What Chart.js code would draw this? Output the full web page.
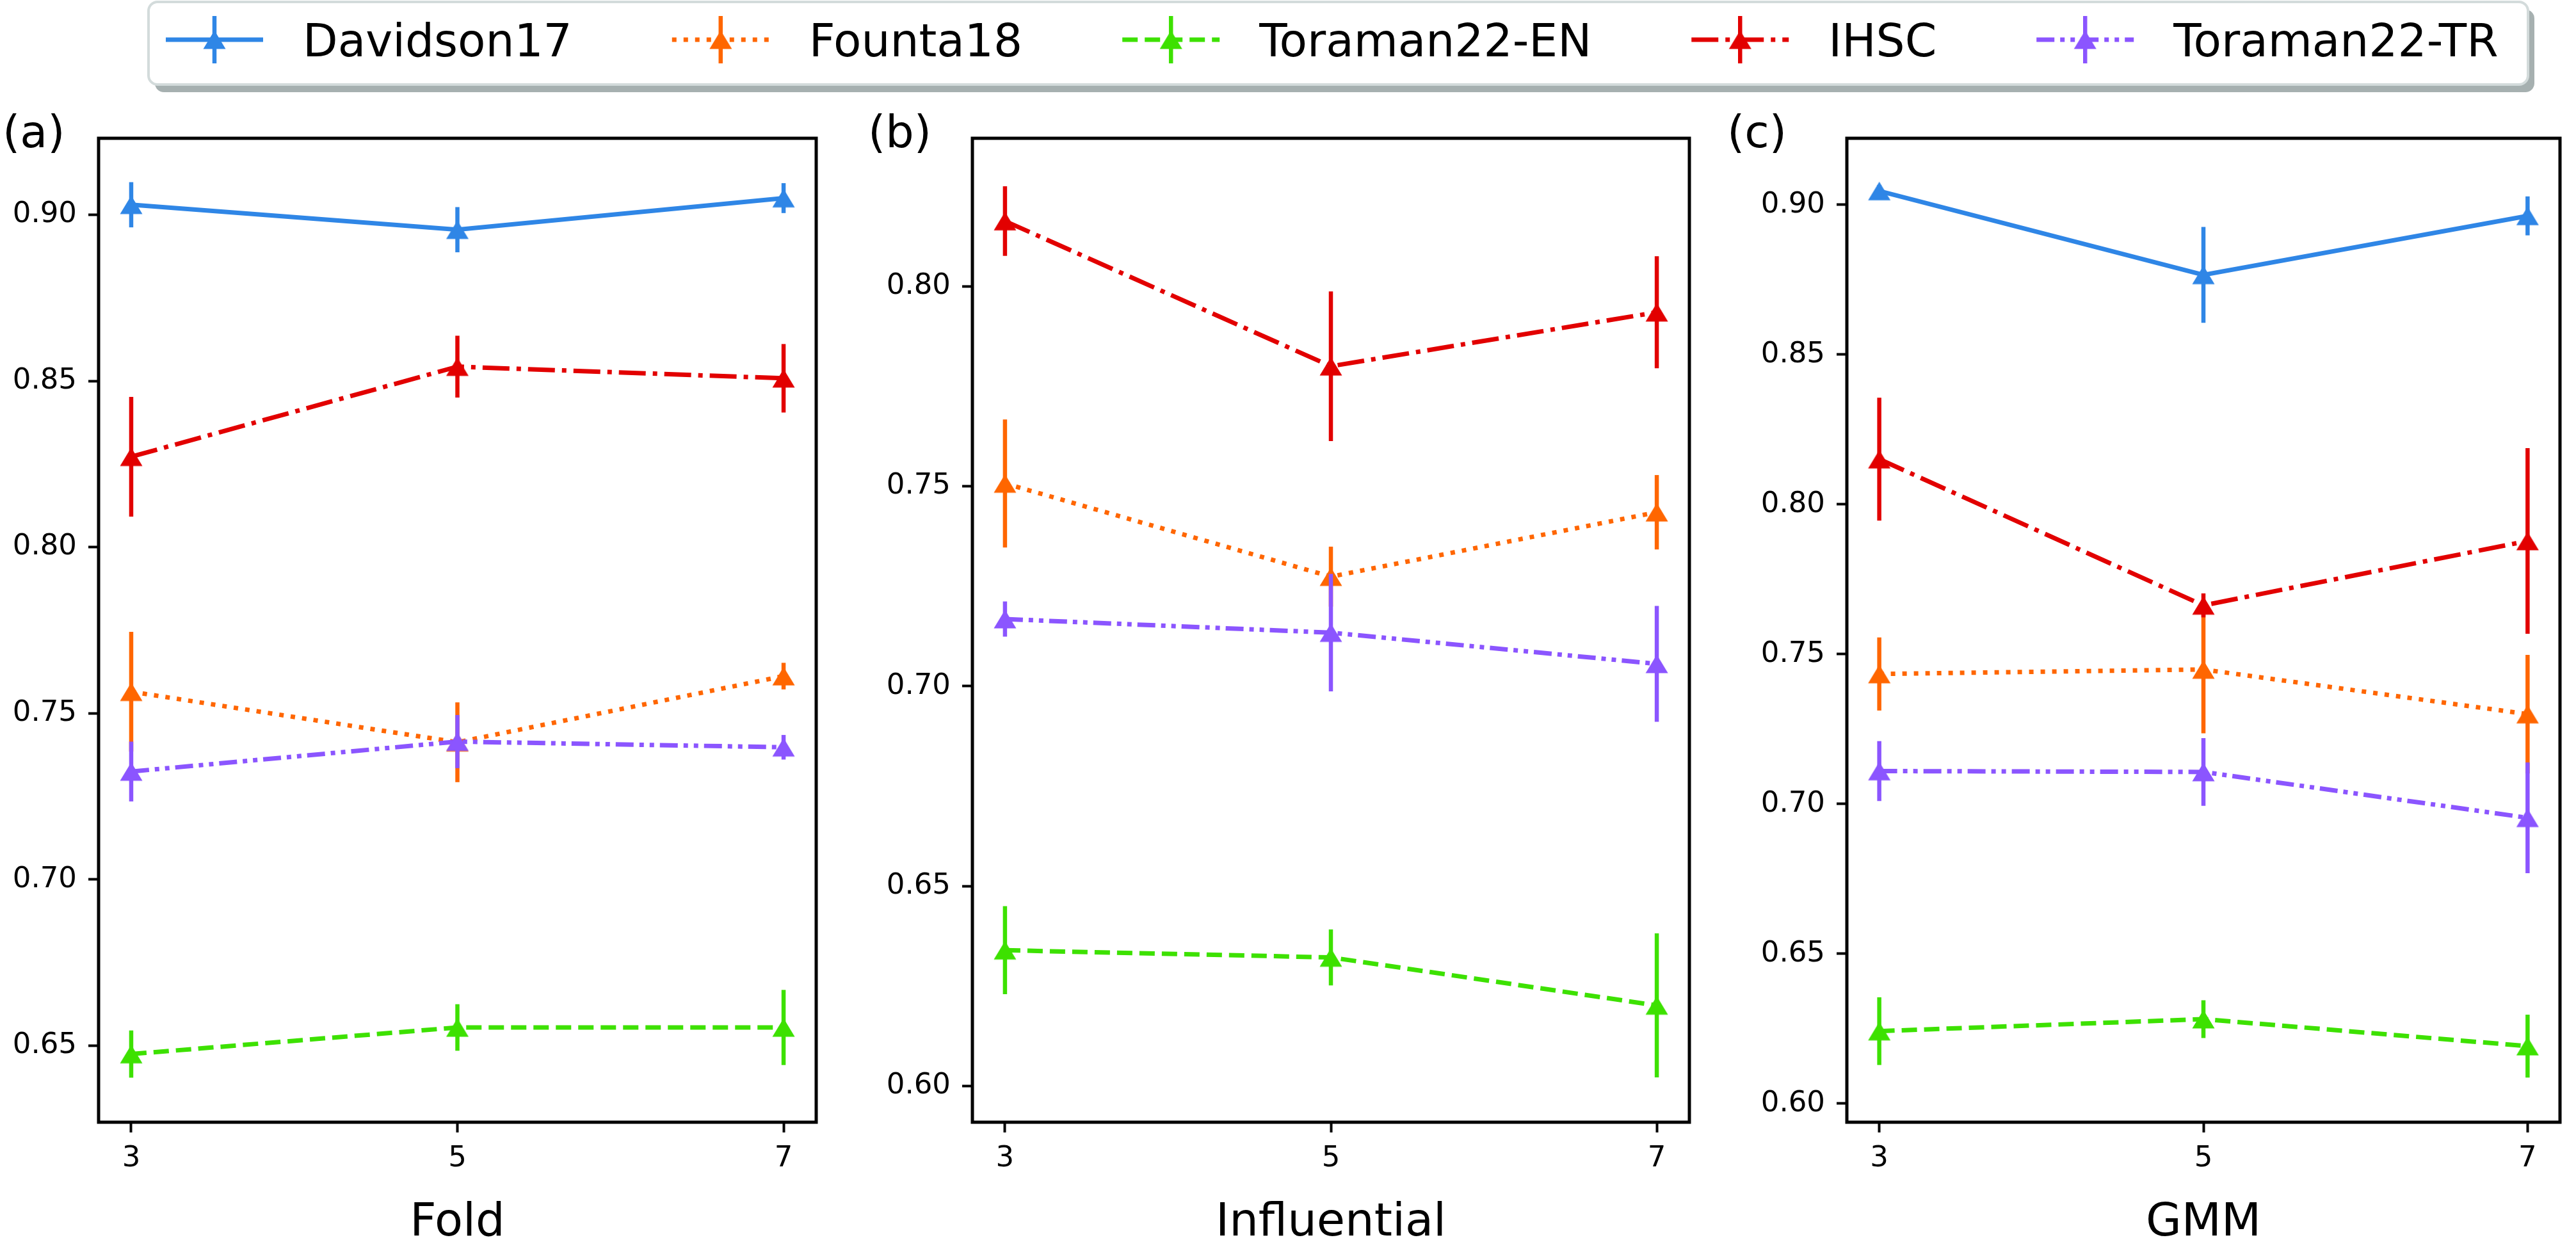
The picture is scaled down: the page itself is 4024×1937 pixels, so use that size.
<!DOCTYPE html>
<html>
<head>
<meta charset="utf-8">
<title>Fold / Influential / GMM</title>
<script src="https://cdn.jsdelivr.net/npm/chart.js@4.4.1/dist/chart.umd.min.js"></script>
<style>
  html, body { margin: 0; padding: 0; background: #fff; }
  body { width: 4024px; height: 1937px; position: relative; overflow: hidden; }
  canvas { position: absolute; }
</style>
</head>
<body>
<canvas id="legend" width="4024" height="160" style="left:0;top:0"></canvas>
<canvas id="chartA" width="1300" height="1787" style="left:0;top:150px"></canvas>
<canvas id="chartB" width="1364" height="1787" style="left:1300px;top:150px"></canvas>
<canvas id="chartC" width="1364" height="1787" style="left:2660px;top:150px"></canvas>
<script>
// Data
const xValues = [3, 5, 7];
const seriesNames = ['Davidson17', 'Founta18', 'Toraman22-EN', 'IHSC', 'Toraman22-TR'];
const seriesColors = ['#2f86e6', '#ff6600', '#3de100', '#e20000', '#8b55ff'];

// rows follow seriesNames, columns follow xValues
const foldMeans = [
    [0.903, 0.8955, 0.905],
    [0.7565, 0.7413, 0.7612],
    [0.6475, 0.6555, 0.6555],
    [0.8272, 0.8543, 0.8508],
    [0.7325, 0.7415, 0.7398]
];
const foldErrors = [
    [0.0068, 0.0068, 0.0045],
    [0.018, 0.012, 0.004],
    [0.0071, 0.007, 0.0113],
    [0.018, 0.0093, 0.0103],
    [0.009, 0.008, 0.0037]
];

const influentialMeans = [
    [null, null, null],
    [0.7507, 0.7274, 0.7435],
    [0.634, 0.6322, 0.6202],
    [0.8163, 0.78, 0.7935],
    [0.7168, 0.7134, 0.7056]
];
const influentialErrors = [
    [null, null, null],
    [0.016, 0.0075, 0.0093],
    [0.011, 0.007, 0.018],
    [0.0087, 0.0187, 0.014],
    [0.0044, 0.0147, 0.0145]
];

const gmmMeans = [
    [0.9046, 0.8766, 0.8963],
    [0.7434, 0.7449, 0.73],
    [0.6242, 0.6282, 0.6192],
    [0.8151, 0.7663, 0.7878],
    [0.711, 0.7107, 0.6954]
];
const gmmErrors = [
    [0.002, 0.016, 0.0065],
    [0.0122, 0.0213, 0.0198],
    [0.0113, 0.0063, 0.0105],
    [0.0205, 0.004, 0.031],
    [0.01, 0.0113, 0.0185]
];

const panelTitles = ['Fold', 'Influential', 'GMM'];
const panelLetters = ['(a)', '(b)', '(c)'];
const panelYLimits = [[0.627, 0.923], [0.591, 0.837], [0.5938, 0.9222]];
const panelYTicks = [
    [0.65, 0.70, 0.75, 0.80, 0.85, 0.90],
    [0.60, 0.65, 0.70, 0.75, 0.80],
    [0.60, 0.65, 0.70, 0.75, 0.80, 0.85, 0.90]
];

// line styles (matplotlib-like)
const seriesDashes = [[], [7, 11], [24, 11], [42, 11, 7, 11], [28, 9, 7, 9, 7, 9]];

Chart.defaults.font.family = "'DejaVu Sans', sans-serif";
Chart.defaults.color = '#000';

// triangle marker centred on its bounding box, like matplotlib '^'
function makeTriangle(color) {
    const c = document.createElement('canvas');
    c.width = 38;
    c.height = 32;
    const g = c.getContext('2d');
    g.fillStyle = color;
    g.beginPath();
    g.moveTo(19, 1.5);
    g.lineTo(36.5, 30.5);
    g.lineTo(1.5, 30.5);
    g.closePath();
    g.fill();
    return c;
}
const seriesMarkers = seriesColors.map(makeTriangle);

// Error bars drawn just before each dataset's line
const errorBarPlugin = {
    id: 'errorBars',
    beforeDatasetDraw(chart, args) {
        const ds = chart.data.datasets[args.index];
        if (!ds.errors) return;
        const ctx = chart.ctx;
        const xs = chart.scales.x;
        const ys = chart.scales.y;
        ctx.save();
        ctx.strokeStyle = ds.borderColor;
        ctx.lineWidth = 6.5;
        ctx.setLineDash([]);
        ds.data.forEach((p, i) => {
            const e = ds.errors[i];
            if (p.y === null || e === null) return;
            const px = xs.getPixelForValue(p.x);
            ctx.beginPath();
            ctx.moveTo(px, ys.getPixelForValue(p.y - e));
            ctx.lineTo(px, ys.getPixelForValue(p.y + e));
            ctx.stroke();
        });
        ctx.restore();
    }
};

// Box around plot area and the (a)/(b)/(c) letter
const framePlugin = {
    id: 'frame',
    afterDraw(chart, args, opts) {
        const {ctx, chartArea} = chart;
        ctx.save();
        ctx.strokeStyle = '#000';
        ctx.lineWidth = 5;
        ctx.strokeRect(chartArea.left, chartArea.top, chartArea.right - chartArea.left, chartArea.bottom - chartArea.top);
        ctx.fillStyle = '#000';
        ctx.font = "70px 'DejaVu Sans'";
        ctx.textAlign = 'left';
        ctx.textBaseline = 'middle';
        ctx.fillText(opts.letter, chartArea.left + opts.letterOffset, chartArea.top - 4);
        ctx.restore();
    }
};

function makePanel(canvasId, k, means, errors, padLeft, padRight, letterOffset) {
    const datasets = seriesNames.map((name, s) => ({
        label: name,
        data: xValues.map((x, i) => ({x: x, y: means[s][i]})),
        errors: errors[s],
        borderColor: seriesColors[s],
        backgroundColor: seriesColors[s],
        borderWidth: 7,
        borderDash: seriesDashes[s],
        pointStyle: seriesMarkers[s],
        pointRadius: 18,
        fill: false,
        tension: 0,
        order: seriesNames.length - s
    }));

    return new Chart(document.getElementById(canvasId), {
        type: 'line',
        data: {datasets: datasets},
        options: {
            responsive: false,
            animation: false,
            devicePixelRatio: 1,
            layout: {padding: {top: 66, left: padLeft, right: padRight, bottom: 0}},
            plugins: {
                legend: {display: false},
                tooltip: {enabled: false},
                frame: {letter: panelLetters[k], letterOffset: letterOffset}
            },
            scales: {
                x: {
                    type: 'linear',
                    min: 2.8,
                    max: 7.2,
                    afterBuildTicks: (scale) => { scale.ticks = xValues.map(v => ({value: v})); },
                    afterFit: (scale) => { scale.height = 184; },
                    grid: {drawOnChartArea: false, drawTicks: true, tickLength: 16, tickWidth: 4, tickColor: '#000'},
                    border: {display: false},
                    ticks: {font: {size: 45}, padding: 14, color: '#000', callback: (v) => String(v)},
                    title: {display: true, text: panelTitles[k], font: {size: 72, lineHeight: 1}, padding: {top: 0, bottom: -10}, color: '#000'}
                },
                y: {
                    min: panelYLimits[k][0],
                    max: panelYLimits[k][1],
                    afterBuildTicks: (scale) => { scale.ticks = panelYTicks[k].map(v => ({value: v})); },
                    afterFit: (scale) => { scale.width = 154; },
                    grid: {drawOnChartArea: false, drawTicks: true, tickLength: 16, tickWidth: 4, tickColor: '#000'},
                    border: {display: false},
                    ticks: {font: {size: 45}, padding: 18, color: '#000', callback: (v) => v.toFixed(2)}
                }
            }
        },
        plugins: [errorBarPlugin, framePlugin]
    });
}

makePanel('chartA', 0, foldMeans, foldErrors, 0, 8, -150);
makePanel('chartB', 1, influentialMeans, influentialErrors, 65, 8, -163);
makePanel('chartC', 2, gmmMeans, gmmErrors, 71, 4, -187);

// Shared legend above the panels
function drawLegend() {
    const ctx = document.getElementById('legend').getContext('2d');
    const box = {left: 232, top: 3, right: 3949, bottom: 132, r: 14};

    function roundRect(x0, y0, x1, y1, r) {
        ctx.beginPath();
        ctx.moveTo(x0 + r, y0);
        ctx.lineTo(x1 - r, y0);
        ctx.arcTo(x1, y0, x1, y0 + r, r);
        ctx.lineTo(x1, y1 - r);
        ctx.arcTo(x1, y1, x1 - r, y1, r);
        ctx.lineTo(x0 + r, y1);
        ctx.arcTo(x0, y1, x0, y1 - r, r);
        ctx.lineTo(x0, y0 + r);
        ctx.arcTo(x0, y0, x0 + r, y0, r);
        ctx.closePath();
    }

    // shadow
    ctx.fillStyle = '#a6b0b0';
    roundRect(box.left + 10, box.top + 12, box.right + 10, box.bottom + 12, box.r);
    ctx.fill();
    // box
    ctx.fillStyle = '#fff';
    roundRect(box.left, box.top, box.right, box.bottom, box.r);
    ctx.fill();
    ctx.strokeStyle = '#d3dbdb';
    ctx.lineWidth = 4;
    ctx.stroke();

    ctx.font = "71px 'DejaVu Sans'";
    ctx.textBaseline = 'alphabetic';
    const cy = 62;
    let x = 259;
    seriesNames.forEach((name, s) => {
        const col = seriesColors[s];
        const x0 = x, x1 = x + 152, mid = x + 76;
        ctx.strokeStyle = col;
        ctx.lineWidth = 7;
        ctx.setLineDash(seriesDashes[s]);
        ctx.beginPath();
        ctx.moveTo(x0, cy);
        ctx.lineTo(x1, cy);
        ctx.stroke();
        ctx.setLineDash([]);
        ctx.lineWidth = 6.5;
        ctx.beginPath();
        ctx.moveTo(mid, 25);
        ctx.lineTo(mid, 99);
        ctx.stroke();
        const m = seriesMarkers[s];
        ctx.drawImage(m, mid - m.width / 2, cy - m.height / 2);
        ctx.fillStyle = '#000';
        const tx = x1 + 62;
        ctx.fillText(name, tx, 88);
        x = tx + ctx.measureText(name).width + 156;
    });
}
drawLegend();
</script>
</body>
</html>
